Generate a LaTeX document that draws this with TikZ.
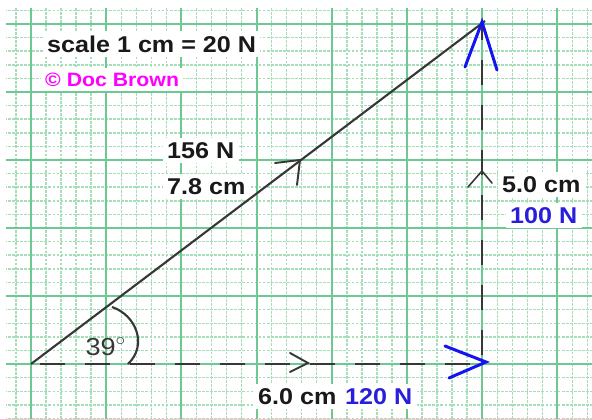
\documentclass[tikz,border=0pt]{standalone}
\usepackage{fontspec}
\usepackage{graphicx}
\setmainfont{Liberation Sans}
\usetikzlibrary{calc}
\definecolor{gmajor}{RGB}{110,200,145}
\definecolor{gminor}{RGB}{165,222,185}
\definecolor{vecgray}{RGB}{55,55,55}
\definecolor{vblue}{RGB}{20,20,240}
\definecolor{lblblue}{RGB}{40,30,220}
\definecolor{magent}{RGB}{255,0,255}
\newcommand{\hstr}[1]{\scalebox{1.1}[1]{#1}}
\tikzset{
  majorline/.style={draw=gmajor, line width=1.1pt},
  minorline/.style={draw=gminor, line width=0.8pt, dash pattern=on 1.6pt off 0.7pt},
  vecline/.style={draw=vecgray, line width=1.2pt},
  dashvec/.style={draw=vecgray, line width=1.7pt, dash pattern=on 0.5cm off 0.4cm, dash phase=0.72cm},
  chev/.style={draw=vecgray, line width=1.1pt, line cap=round, line join=miter},
  bluehead/.style={draw=vblue, line width=1.7pt, line cap=round, line join=miter},
  lbl/.style={font=\bfseries\fontsize{13}{15}\selectfont, fill=white, inner sep=2.5pt, anchor=base west, text=black!90},
}
\begin{document}
\begin{tikzpicture}[x=0.02cm,y=-0.02cm]
\useasboundingbox (0,0) rectangle (592,419);
\fill[white] (0,0) rectangle (592,419);
% grid
\begin{scope}
\clip (6,8) rectangle (592,419);
\foreach \k in {-1,...,37} \draw[minorline] ({31+15.04*\k},0) -- ({31+15.04*\k},419);
\foreach \k in {-4,...,26} \draw[minorline] (0,{364-13.6*\k}) -- (592,{364-13.6*\k});
\foreach \k in {0,...,7} \draw[majorline] ({31+75.2*\k},0) -- ({31+75.2*\k},419);
\foreach \k in {-1,...,5} \draw[majorline] (0,{364-68*\k}) -- (592,{364-68*\k});
\end{scope}
% labels
\node[lbl] (scale) at (42.5,52) {\hstr{scale 1 cm = 20 N}};
\node[lbl, text=magent, font=\bfseries\fontsize{11}{13}\selectfont] (doc) at (40.5,86) {\hstr{\char"00A9{} Doc Brown}};
\node[lbl] (force) at (162.5,158) {\hstr{156 N}};
\node[lbl] (len) at (162.5,194) {\hstr{7.8 cm}};
\node[lbl] (vlen) at (497.5,192) {\hstr{5.0 cm}};
\node[lbl, text=lblblue] (vforce) at (505.5,223) {\hstr{100 N}};
\node[lbl] (hlen) at (253.5,404) {\hstr{6.0 cm}};
\node[lbl, text=lblblue] (hforce) at (340.5,404) {\hstr{120 N}};
% vertices
\coordinate (O) at (31,364);
\coordinate (A) at (482,364);
\coordinate (T) at (485,21);
\coordinate (Tv) at (482,24);
% vectors
\draw[dashvec] (O) -- (A);
\draw[dashvec] (A) -- (Tv);
\draw[vecline] (O) -- (T);
% mid chevrons
\coordinate (mh) at (308,363);
\draw[chev] ($(mh)+(-18,-10)$) -- (mh) -- ($(mh)+(-18,9)$);
\coordinate (mv) at (482,171);
\draw[chev, line width=0.9pt] ($(mv)+(-14,16)$) -- (mv) -- ($(mv)+(10,12)$);
\coordinate (md) at (300,160);
\draw[chev] ($(md)+(-25,3)$) -- (md) -- ($(md)+(-3,25)$);
% blue arrowheads
\coordinate (ha) at (486,362);
\draw[bluehead] ($(ha)+(-41,-16)$) -- (ha) -- ($(ha)+(-37,16)$);
\coordinate (va) at (482,22);
\draw[bluehead] ($(va)+(-17,45)$) -- (va) -- ($(va)+(15,48)$);
% angle
\draw[vecline] (112,307) .. controls (136,315) and (148,345) .. (128,364);
\node[text=vecgray, font=\fontsize{14}{16}\selectfont, inner sep=0pt, anchor=base] (ang) at (106,355) {\hstr{39$^\circ$}};
\end{tikzpicture}
\end{document}
